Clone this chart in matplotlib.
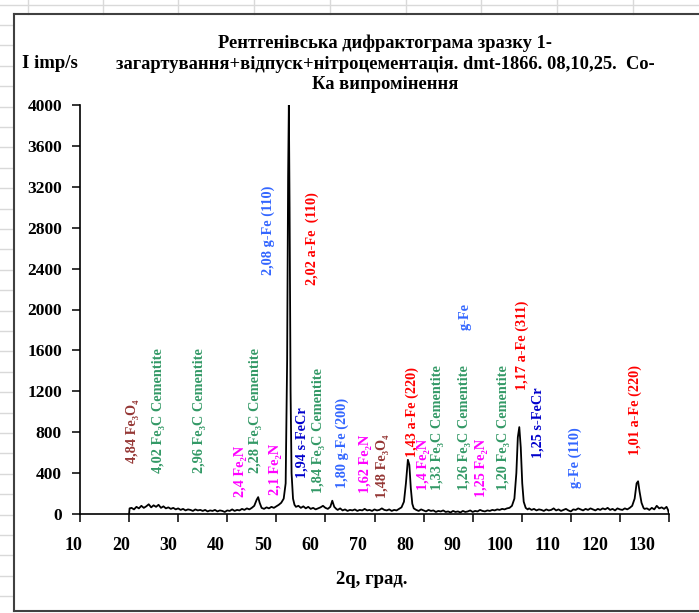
import matplotlib
matplotlib.use('Agg')
import matplotlib.pyplot as plt
from matplotlib.lines import Line2D

plt.rcParams['font.family'] = ['Liberation Serif', 'DejaVu Serif']
plt.rcParams['font.weight'] = 'bold'

# diffractogram (2theta, intensity)
two_theta = [20.0, 20.1, 20.5, 21.0, 21.5, 22.0, 22.5, 23.0, 23.5, 24.0, 24.5, 25.0, 25.5,
             26.0, 26.5, 27.0, 27.5, 28.0, 28.5, 29.0, 29.5, 30.0, 30.5, 31.0, 31.5, 32.0,
             32.5, 33.0, 33.5, 34.0, 34.5, 35.0, 35.5, 36.0, 36.5, 37.0, 37.5, 38.0, 38.5,
             39.0, 39.5, 40.0, 40.5, 41.0, 41.5, 42.0, 42.5, 43.0, 43.5, 44.0, 44.5, 45.0,
             45.5, 46.0, 46.3, 46.6, 47.0, 47.5, 48.0, 48.5, 49.0, 49.5, 50.0, 50.5, 51.0,
             51.5, 51.9, 52.2, 52.4, 52.55, 52.7, 52.9, 53.1, 53.4, 53.7, 54.0, 54.5, 55.0,
             55.5, 56.0, 56.5, 57.0, 57.5, 58.0, 58.5, 59.0, 59.5, 60.0, 60.5, 61.0, 61.4,
             61.8, 62.2, 62.5, 63.0, 63.5, 64.0, 64.5, 65.0, 65.5, 66.0, 66.5, 67.0, 67.5,
             68.0, 68.5, 69.0, 69.5, 70.0, 70.5, 71.0, 71.5, 72.0, 72.5, 73.0, 73.5, 74.0,
             74.5, 75.0, 75.5, 76.0, 76.4, 76.8, 77.1, 77.4, 77.7, 78.0, 78.5, 79.0, 79.5,
             80.0, 80.5, 81.0, 81.5, 82.0, 82.5, 83.0, 83.5, 84.0, 84.5, 85.0, 85.5, 86.0,
             86.5, 87.0, 87.5, 88.0, 88.5, 89.0, 89.5, 90.0, 90.5, 91.0, 91.5, 92.0, 92.5,
             93.0, 93.5, 94.0, 94.5, 95.0, 95.5, 96.0, 96.5, 97.0, 97.5, 98.0, 98.5, 98.9,
             99.2, 99.5, 99.8, 100.1, 100.4, 100.8, 101.2, 101.5, 102.0, 102.5, 103.0, 103.5,
             104.0, 104.5, 105.0, 105.5, 106.0, 106.5, 107.0, 107.5, 108.0, 108.5, 109.0,
             109.5, 110.0, 110.5, 111.0, 111.5, 112.0, 112.5, 113.0, 113.5, 114.0, 114.5,
             115.0, 115.5, 116.0, 116.5, 117.0, 117.5, 118.0, 118.5, 119.0, 119.5, 120.0,
             120.5, 121.0, 121.5, 122.0, 122.5, 123.0, 123.4, 123.7, 124.0, 124.4, 124.8,
             125.0, 125.5, 126.0, 126.5, 127.0, 127.5, 128.0, 128.5, 129.0, 129.5, 129.8, 130.0]
intensity = [0, 55, 60, 45, 70, 55, 80, 60, 75, 95, 65, 85, 70,
             90, 60, 75, 55, 65, 50, 60, 45, 55, 40, 50, 35, 45,
             40, 30, 45, 35, 40, 30, 40, 25, 35, 30, 40, 25, 35,
             30, 20, 35, 30, 45, 30, 40, 35, 50, 40, 55, 45, 60,
             80, 140, 165, 110, 60, 50, 65, 55, 70, 60, 75, 90, 110,
             150, 300, 1500, 3300, 4000, 3000, 1200, 400, 150, 90, 70, 80, 60,
             75, 55, 70, 50, 60, 45, 55, 65, 80, 60, 50, 70, 130,
             70, 50, 40, 55, 35, 45, 30, 40, 35, 45, 30, 40, 35,
             50, 35, 40, 30, 45, 35, 40, 55, 40, 35, 45, 30, 40,
             35, 50, 65, 120, 300, 530, 480, 250, 100, 55, 40, 30, 45,
             35, 25, 40, 30, 35, 20, 30, 25, 35, 20, 25, 15, 30,
             20, 25, 15, 30, 20, 25, 35, 20, 30, 25, 40, 30, 25,
             35, 30, 40, 35, 45, 40, 50, 45, 55, 60, 80, 150, 400,
             750, 850, 650, 300, 120, 60, 45, 55, 40, 50, 35, 45,
             40, 30, 45, 35, 40, 55, 35, 45, 30, 40, 50,
             35, 25, 45, 40, 55, 45, 35, 50, 40, 55, 45,
             35, 50, 40, 55, 45, 60, 40, 50, 35, 55, 45,
             40, 55, 45, 60, 80, 150, 300, 320, 220, 110, 60,
             50, 55, 40, 60, 45, 80, 55, 65, 50, 70, 40, 0]

y_ticks = [0, 400, 800, 1200, 1600, 2000, 2400, 2800, 3200, 3600, 4000]
x_ticks = [10, 20, 30, 40, 50, 60, 70, 80, 90, 100, 110, 120, 130]

# phase labels: text, 2theta position, intensity of label foot, colour
peak_labels = [
    ('4,84 Fe₃O₄', 20.6, 500, '#953735'),
    ('4,02 Fe₃C Cementite', 25.9, 400, '#339966'),
    ('2,96 Fe₃C Cementite', 34.4, 400, '#339966'),
    ('2,4 Fe₂N', 42.6, 165, '#FF00FF'),
    ('2,28 Fe₃C Cementite', 45.7, 400, '#339966'),
    ('2,1 Fe₂N', 49.9, 185, '#FF00FF'),
    ('2,08 g-Fe (110)', 48.3, 2340, '#3366FF'),
    ('2,02 a-Fe  (110)', 57.3, 2240, '#FF0000'),
    ('1,94 s-FeCr', 55.2, 350, '#0000CC'),
    ('1,84 Fe₃C Cementite', 58.5, 205, '#339966'),
    ('1,80 g-Fe (200)', 63.4, 255, '#3366FF'),
    ('1,62 Fe₂N', 68.1, 205, '#FF00FF'),
    ('1,48 Fe₃O₄', 71.7, 155, '#953735'),
    ('1,43 a-Fe (220)', 77.6, 555, '#FF0000'),
    ('1,4 Fe₂N', 79.9, 235, '#FF00FF'),
    ('1,33 Fe₃C Cementite', 82.9, 235, '#339966'),
    ('1,26 Fe₃C Cementite', 88.4, 235, '#339966'),
    ('1,25 Fe₂N', 91.9, 165, '#FF00FF'),
    ('g-Fe', 88.4, 1800, '#3366FF'),
    ('1,20 Fe₃C Cementite', 96.2, 235, '#339966'),
    ('1,17 a-Fe (311)', 100.1, 1210, '#FF0000'),
    ('1,25 s-FeCr', 103.3, 550, '#0000CC'),
    ('g-Fe (110)', 110.9, 255, '#3366FF'),
    ('1,01 a-Fe (220)', 123.1, 575, '#FF0000'),
]

title = ('Рентгенівська дифрактограма зразку 1-\n'
         'загартування+відпуск+нітроцементація. dmt-1866. 08,10,25.  Co-\n'
         'Ка випромінення')

W, H = 699, 613
fig = plt.figure(figsize=(W / 100, H / 100), dpi=100)


def px(x, y):
    return x / W, 1 - y / H


# spreadsheet grid behind the chart object
grid_c = '#d9d9d9'
for gx in [28, 103, 178, 254, 330, 406, 481, 557, 633]:
    fig.add_artist(Line2D([gx / W] * 2, [1, 1 - 14 / H], color=grid_c, lw=1))
fig.add_artist(Line2D([0, 1], [1 - 5 / H] * 2, color=grid_c, lw=1))
gy = 25
while gy < H:
    fig.add_artist(Line2D([0, 12 / W], [1 - gy / H] * 2, color=grid_c, lw=1))
    gy += 20.4
# chart border
fig.add_artist(Line2D([14 / W, 14 / W], [1 - 14 / H, 1 - 611 / H], color='#404040', lw=1.5))
fig.add_artist(Line2D([14 / W, 1], [1 - 14 / H] * 2, color='#404040', lw=1.5))
fig.add_artist(Line2D([14 / W, 1], [1 - 611 / H] * 2, color='#404040', lw=1.5))

ax = fig.add_axes([80 / W, 1 - 514 / H, 589 / W, 409 / H])
ax.plot(two_theta, intensity, color='black', lw=1.3)

ax.set_xlim(10, 130)
ax.set_ylim(0, 4000)
ax.spines['top'].set_visible(False)
ax.spines['right'].set_visible(False)
ax.spines['left'].set_linewidth(1.2)
ax.spines['bottom'].set_linewidth(1.2)

ax.set_yticks(y_ticks)
ax.set_yticklabels([str(v) for v in y_ticks], fontsize=12.5, fontweight='bold')
ax.tick_params(axis='y', length=6, width=1.1, pad=7)
ax.set_xticks(x_ticks)
ax.set_xticklabels([])
ax.tick_params(axis='x', length=6, width=1.1)

# category labels sit a little off the ticks in the original
for v in x_ticks:
    ax.text(8.68 + (v - 10) * 0.9653, -0.076, str(v), transform=ax.get_xaxis_transform(),
            ha='center', va='center', fontsize=13, fontweight='bold')

for text, xpos, ypos, col in peak_labels:
    ax.text(xpos, ypos, text, rotation=90, ha='center', va='bottom', color=col,
            fontsize=10.3, fontweight='bold')

fig.text(*px(385, 64), title, ha='center', va='center', fontsize=13.3, fontweight='bold',
         linespacing=1.25)
fig.text(*px(22, 63), 'I imp/s', ha='left', va='center', fontsize=13.5, fontweight='bold')
fig.text(*px(372, 580), '2q, град.', ha='center', va='center', fontsize=13.5, fontweight='bold')

fig.savefig('out.png', dpi=100)
